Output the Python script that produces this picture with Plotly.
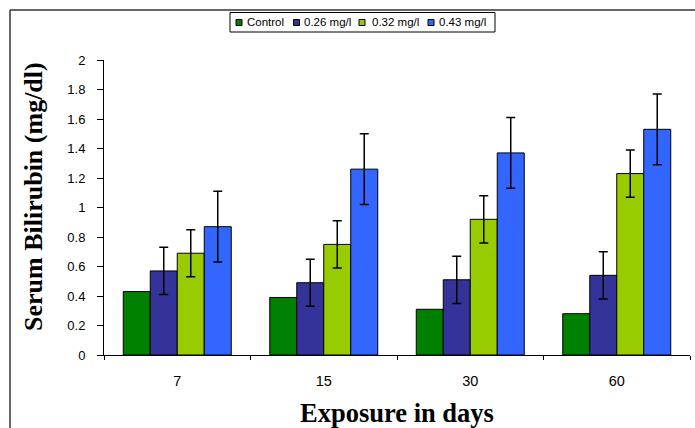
import plotly.graph_objects as go

categories = ["7", "15", "30", "60"]
series_names = ["Control", "0.26 mg/l", "0.32 mg/l", "0.43 mg/l"]
control = [0.43, 0.39, 0.31, 0.28]
dose_026 = [0.57, 0.49, 0.51, 0.54]
dose_032 = [0.69, 0.75, 0.92, 1.23]
dose_043 = [0.87, 1.26, 1.37, 1.53]
err_026 = [0.16, 0.16, 0.16, 0.16]
err_032 = [0.16, 0.16, 0.16, 0.16]
err_043 = [0.24, 0.24, 0.24, 0.24]
colors = ["#008000", "#333399", "#99CC00", "#3366FF"]

values = [control, dose_026, dose_032, dose_043]
errors = [None, err_026, err_032, err_043]

fig = go.Figure()
for name, vals, err, col in zip(series_names, values, errors, colors):
    fig.add_trace(go.Bar(
        x=categories, y=vals, name=name,
        marker=dict(color=col, line=dict(color="black", width=1)),
        error_y=(dict(type="data", array=err, visible=True, color="black",
                      thickness=1.5, width=4.5) if err else None),
        showlegend=False,
    ))

W, H = 695, 428
L, R, T, B = 104, 5, 60, 73
pw, ph = W - L - R, H - T - B


def px(x):
    return (x - L) / pw


def py(y):
    return (H - B - y) / ph


# manual compact legend (layout positions in pixels)
legend_symbol_x = [236, 293.5, 359, 428]
legend_text_x = [246.5, 304, 371.5, 438.5]
legend_y = 22.5

shapes = [
    dict(type="line", xref="paper", yref="paper", x0=px(10), x1=px(10),
         y0=py(440), y1=py(10), line=dict(color="#333333", width=1.5)),
    dict(type="line", xref="paper", yref="paper", x0=px(10), x1=px(700),
         y0=py(10), y1=py(10), line=dict(color="#333333", width=1.5)),
    dict(type="rect", xref="paper", yref="paper", x0=px(230), x1=px(495),
         y0=py(32), y1=py(12.5), line=dict(color="black", width=1), fillcolor="white",
         layer="below"),
]
annotations = [
    dict(text="<b>Exposure in days</b>", xref="paper", yref="paper",
         x=px(397), y=py(413), xanchor="center", yanchor="middle", showarrow=False,
         font=dict(family="Liberation Serif, Times New Roman", size=26.5, color="black")),
    dict(text="<b>Serum Bilirubin (mg/dl)</b>", xref="paper", yref="paper",
         x=px(33), y=py(197), xanchor="center", yanchor="middle", showarrow=False,
         textangle=-90,
         font=dict(family="Liberation Serif, Times New Roman", size=26, color="black")),
]
for name, col, sx, tx in zip(series_names, colors, legend_symbol_x, legend_text_x):
    shapes.append(dict(type="rect", xref="paper", yref="paper",
                       x0=px(sx), x1=px(sx + 6), y0=py(legend_y + 3), y1=py(legend_y - 3),
                       line=dict(color="black", width=1), fillcolor=col))
    annotations.append(dict(text=name, xref="paper", yref="paper", x=px(tx), y=py(legend_y),
                            xanchor="left", yanchor="middle", showarrow=False,
                            xshift=-2,
                            font=dict(family="Liberation Sans, Arial", size=11.5, color="black")))

fig.update_layout(
    width=W, height=H,
    margin=dict(l=L, r=R, t=T, b=B, autoexpand=False),
    paper_bgcolor="white", plot_bgcolor="white",
    barmode="group", bargap=0.263, bargroupgap=0,
    font=dict(family="Liberation Sans, Arial", color="black"),
    showlegend=False,
    xaxis=dict(type="category", showline=True, linecolor="black", linewidth=1,
               ticks="outside", tickson="boundaries", ticklen=4, tickcolor="black",
               tickfont=dict(size=14.5), ticklabelstandoff=13, showgrid=False,
               automargin=False),
    yaxis=dict(range=[0, 2], dtick=0.2, showline=True, linecolor="black", linewidth=1,
               ticks="outside", ticklen=6, tickcolor="black", tickfont=dict(size=13),
               ticklabelstandoff=9, showgrid=False, zeroline=False, automargin=False),
    annotations=annotations,
    shapes=shapes,
)

fig.write_html("out.html", config={"displayModeBar": False},
               post_script="document.body.style.margin='0';")
